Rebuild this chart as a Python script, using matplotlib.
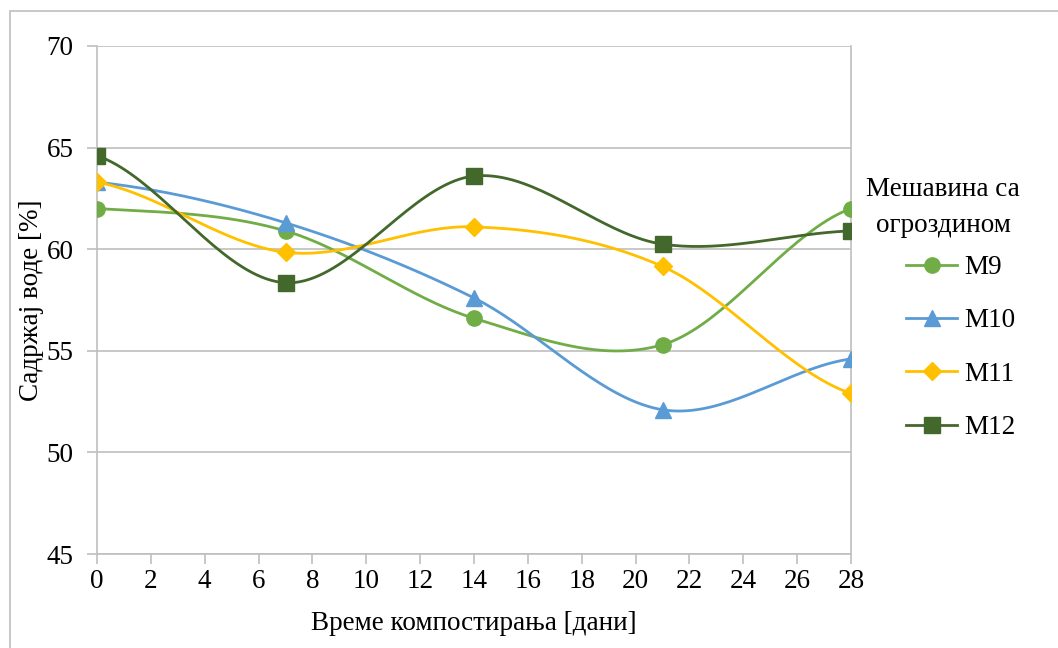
import numpy as np
import matplotlib.pyplot as plt
from matplotlib.patches import Rectangle

plt.rcParams['font.family'] = ['Liberation Serif', 'DejaVu Serif']

days = [0, 7, 14, 21, 28]
m9 = [62.0, 60.9, 56.6, 55.3, 62.0]
m10 = [63.3, 61.3, 57.6, 52.1, 54.6]
m11 = [63.3, 59.85, 61.1, 59.15, 52.9]
m12 = [64.6, 58.35, 63.6, 60.25, 60.9]

series = [
    ("M9", m9, "#70AD47", "o", 11),
    ("M10", m10, "#5B9BD5", "^", 11),
    ("M11", m11, "#FFC000", "D", 9),
    ("M12", m12, "#43682B", "s", 11),
]


def smooth(x, y, n=40):
    """Catmull-Rom style smoothing through every point (like a spreadsheet smoothed line)."""
    x = np.asarray(x, float)
    y = np.asarray(y, float)
    px = np.concatenate([[2 * x[0] - x[1]], x, [2 * x[-1] - x[-2]]])
    py = np.concatenate([[y[0]], y, [y[-1]]])
    xs, ys = [], []
    for i in range(1, len(px) - 2):
        p0, p1, p2, p3 = (np.array([px[j], py[j]]) for j in range(i - 1, i + 3))
        c1 = p1 + (p2 - p0) / 6
        c2 = p2 - (p3 - p1) / 6
        t = np.linspace(0, 1, n)[:, None]
        pts = ((1 - t) ** 3 * p1 + 3 * (1 - t) ** 2 * t * c1
               + 3 * (1 - t) * t ** 2 * c2 + t ** 3 * p2)
        xs.append(pts[:, 0])
        ys.append(pts[:, 1])
    return np.concatenate(xs), np.concatenate(ys)


W, H = 1058, 648
fig = plt.figure(figsize=(W / 100, H / 100), dpi=100)
ax = fig.add_axes([97 / W, 1 - 554 / H, (851 - 97) / W, (554 - 46) / H])

# light chart-area border
fig.patches.append(Rectangle((10 / W, -0.1), 1.2, 1 - 11 / H + 0.1,
                             transform=fig.transFigure, fill=False,
                             edgecolor="#BFBFBF", lw=1.2))

for name, vals, color, marker, ms in series:
    sx, sy = smooth(days, vals)
    ax.plot(sx, sy, color=color, lw=2.0, zorder=3)
    ax.plot(days, vals, linestyle="none", marker=marker, ms=ms, color=color, zorder=4)
    ax.plot([], [], color=color, lw=2.0, marker=marker, ms=ms, label=name)

ax.set_xlim(0, 28)
ax.set_ylim(45, 70)
ax.set_xticks(range(0, 29, 2))
ax.set_yticks(range(45, 71, 5))
ax.yaxis.grid(True, color="#BFBFBF", lw=1.2)
ax.set_axisbelow(True)
ax.spines["top"].set_visible(False)
for side in ("left", "right", "bottom"):
    ax.spines[side].set_color("#BFBFBF")
    ax.spines[side].set_linewidth(1.2)
ax.tick_params(axis="both", colors="#BFBFBF", labelcolor="black", labelsize=19.5,
               length=7, width=1.2)
ax.tick_params(axis="x", pad=4)
ax.tick_params(axis="y", pad=10)

ax.set_xlabel("Време компостирања [дани]", fontsize=19.5, labelpad=12)
ax.set_ylabel("Садржај воде [%]", fontsize=19.5, labelpad=2)

# legend title drawn as two centred lines above the entries
fig.text(943 / W, 1 - 190 / H, "Мешавина са", ha="center", va="center", fontsize=19.5)
fig.text(943 / W, 1 - 225 / H, "огроздином", ha="center", va="center", fontsize=19.5)
ax.legend(loc="upper left", bbox_to_anchor=(906 / W, 1 - 255 / H),
          bbox_transform=fig.transFigure, frameon=False, fontsize=19.5,
          handlelength=1.9, labelspacing=1.05, handletextpad=0.25,
          borderpad=0, borderaxespad=0)

fig.savefig("out.png", dpi=100)
